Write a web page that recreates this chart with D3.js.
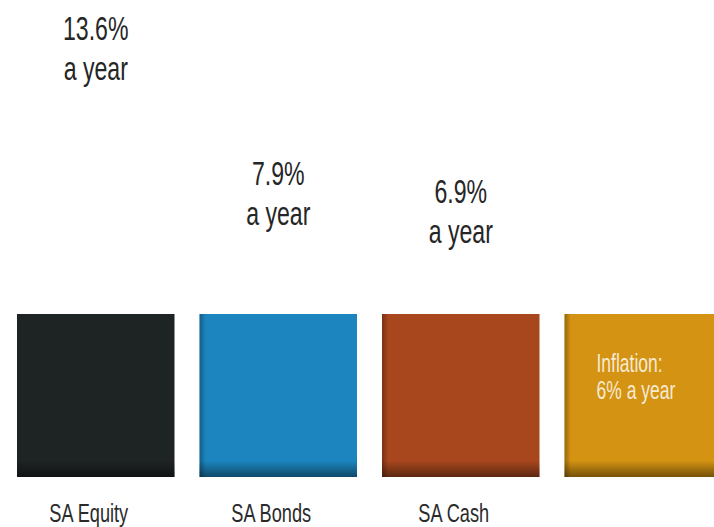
<!DOCTYPE html>
<html>
<head>
<meta charset="utf-8">
<script src="https://cdn.jsdelivr.net/npm/d3@7"></script>
<style>
  body { margin: 0; background: #fff; }
  svg { display: block; }
  text { font-family: "Liberation Sans", Arial, sans-serif; }
</style>
</head>
<body>
<div id="chart"></div>
<script>
// categories and values
const categories = ["SA Equity", "SA Bonds", "SA Cash", "Inflation"]
const returns = [13.6, 7.9, 6.9, 6]
const bottomLabels = ["SA Equity", "SA Bonds", "SA Cash", ""]
const inflationLines = ["Inflation:", "6% a year"]

const dims = { width: 714, height: 527 }

const svg = d3.select("#chart")
    .append("svg")
    .attr("width", dims.width)
    .attr("height", dims.height)

const data = categories.map((c, i) => ({ name: c, value: returns[i], label: bottomLabels[i] }))

//------------- scales
const xScale = d3.scaleBand()
    .domain(categories)
    .range([17, 722])
    .paddingInner(0.137)
    .paddingOuter(0)

// position of the rate label above each block
const labelY = d3.scaleLinear()
    .domain([6.9, 7.9, 13.6])
    .range([203, 185, 40])

const colorScale = d3.scaleOrdinal()
    .domain(categories)
    .range(["#1e2324", "#1c85bf", "#a8471e", "#d49313"])

const boxTop = 314
const boxHeight = 163

//------------- shading
const defs = svg.append("defs")
const shade = defs.append("linearGradient")
    .attr("id", "bottomShade")
    .attr("x1", 0).attr("y1", 0).attr("x2", 0).attr("y2", 1)
shade.append("stop").attr("offset", "0.9").attr("stop-color", "#000").attr("stop-opacity", 0)
shade.append("stop").attr("offset", "1").attr("stop-color", "#000").attr("stop-opacity", 0.45)

const sideShade = defs.append("linearGradient")
    .attr("id", "sideShade")
    .attr("x1", 0).attr("y1", 0).attr("x2", 1).attr("y2", 0)
sideShade.append("stop").attr("offset", "0").attr("stop-color", "#000").attr("stop-opacity", 0.3)
sideShade.append("stop").attr("offset", "0.04").attr("stop-color", "#000").attr("stop-opacity", 0)

//------------- blocks
const blocks = svg.append("g")
    .selectAll("g")
    .data(data)
    .join("g")

blocks.append("rect")
    .attr("x", d => xScale(d.name))
    .attr("y", boxTop)
    .attr("width", xScale.bandwidth())
    .attr("height", boxHeight)
    .attr("fill", d => colorScale(d.name))

blocks.filter((d, i) => i > 0).append("rect")
    .attr("x", d => xScale(d.name))
    .attr("y", boxTop)
    .attr("width", xScale.bandwidth())
    .attr("height", boxHeight)
    .attr("fill", "url(#sideShade)")

blocks.append("rect")
    .attr("x", d => xScale(d.name))
    .attr("y", boxTop)
    .attr("width", xScale.bandwidth())
    .attr("height", boxHeight)
    .attr("fill", "url(#bottomShade)")

//------------- rate labels above
const rated = data.filter(d => d.name !== "Inflation")

const rateLabels = svg.append("g")
    .selectAll("g")
    .data(rated)
    .join("g")
    .attr("transform", d => `translate(${xScale(d.name) + xScale.bandwidth() / 2},${labelY(d.value)}) scale(0.68,1)`)

rateLabels.append("text")
    .attr("text-anchor", "middle")
    .attr("font-size", 34)
    .attr("fill", "#262626")
    .text(d => d3.format(".1f")(d.value) + "%")

rateLabels.append("text")
    .attr("text-anchor", "middle")
    .attr("y", 40)
    .attr("font-size", 34)
    .attr("fill", "#262626")
    .text("a year")

//------------- category labels below
svg.append("g")
    .selectAll("text")
    .data(data.filter(d => d.label))
    .join("text")
    .attr("transform", d => `translate(${xScale(d.name) + xScale.bandwidth() / 2 - 7},522) scale(0.7,1)`)
    .attr("text-anchor", "middle")
    .attr("font-size", 26)
    .attr("fill", "#2b2b2b")
    .text(d => d.label)

//------------- inflation text inside block
const infX = xScale("Inflation") + 32
svg.append("g")
    .selectAll("text")
    .data(inflationLines)
    .join("text")
    .attr("transform", (d, i) => `translate(${infX},${boxTop + 58 + i * 27}) scale(0.7,1)`)
    .attr("font-size", 25)
    .attr("fill", "#f6ead2")
    .text(d => d)
</script>
</body>
</html>
